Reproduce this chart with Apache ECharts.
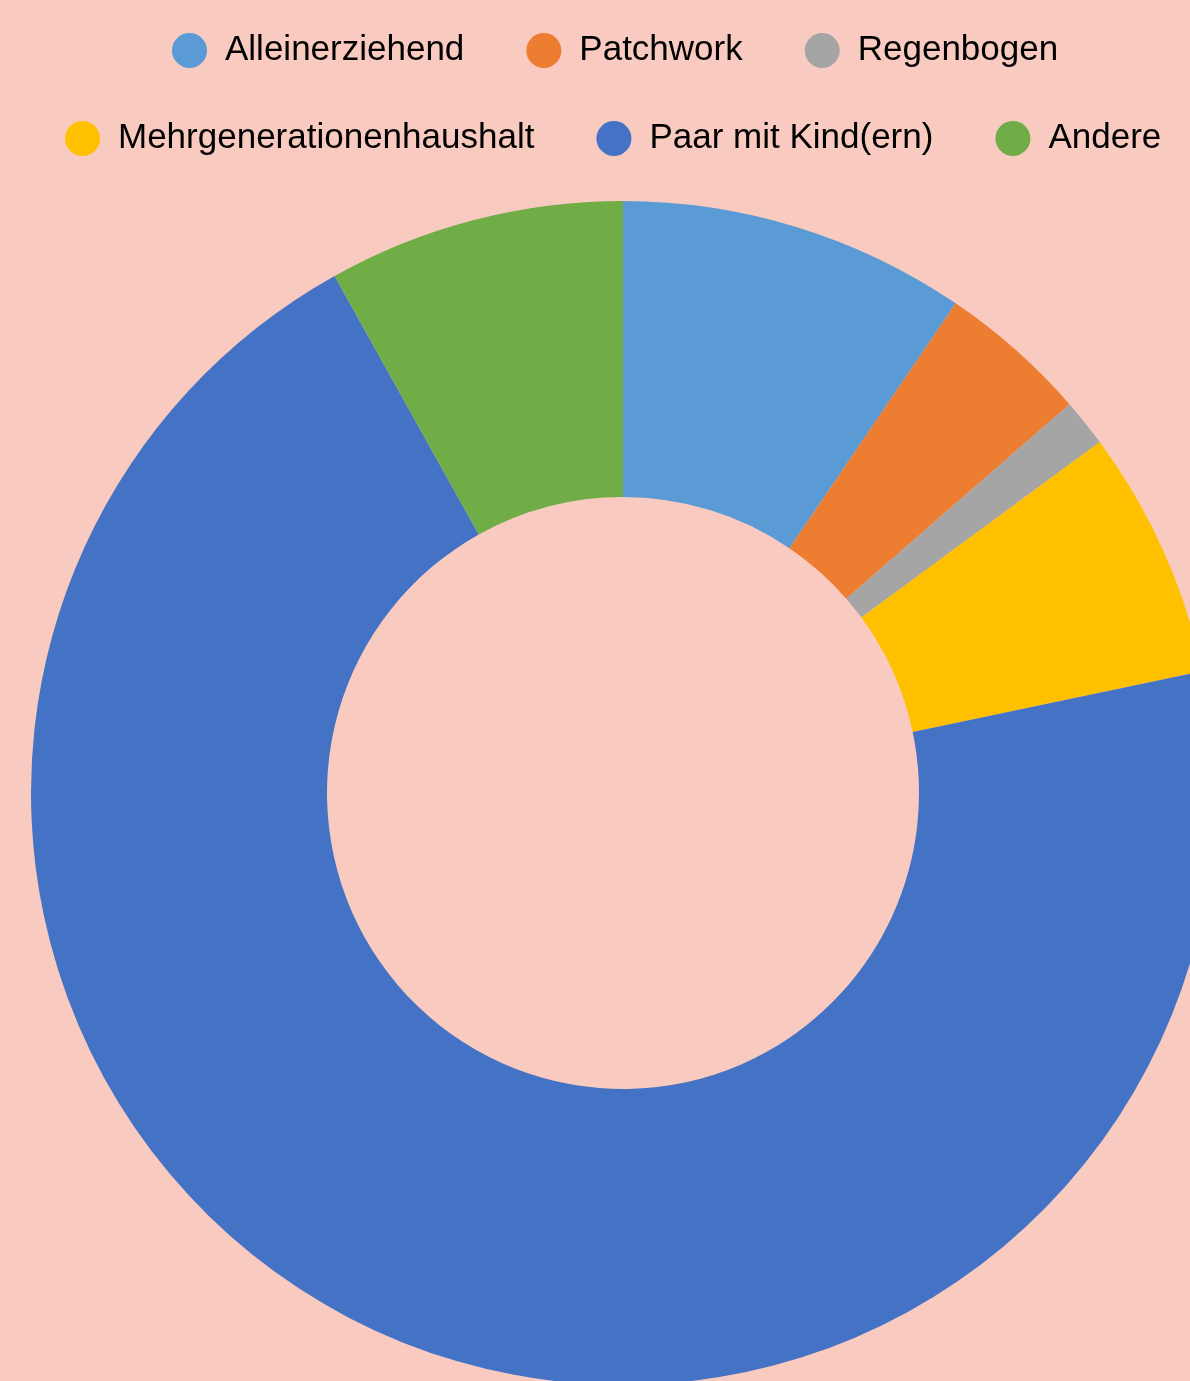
<!DOCTYPE html>
<html>
<head>
<meta charset="utf-8">
<script src="https://cdn.jsdelivr.net/npm/echarts@6/dist/echarts.min.js"></script>
<style>
  html, body { margin: 0; padding: 0; background: #f9cbc0; }
  #chart { width: 1190px; height: 1381px; }
</style>
</head>
<body>
<div id="chart"></div>
<script>
const categories = ["Alleinerziehend", "Patchwork", "Regenbogen", "Mehrgenerationenhaushalt", "Paar mit Kind(ern)", "Andere"];
const shares = [9.5, 4.1, 1.3, 6.8, 70.2, 8.1];
const colors = ["#5b9bd5", "#ed7d31", "#a5a5a5", "#ffc000", "#4472c4", "#70ad47"];

const legendRow1 = categories.slice(0, 3);
const legendRow2 = categories.slice(3);

const chart = echarts.init(document.getElementById("chart"));

const legendBase = {
  orient: "horizontal",
  icon: "circle",
  padding: 0,
  itemWidth: 35,
  itemHeight: 35,
  itemGap: 62,
  selectedMode: false,
  textStyle: {
    fontFamily: "Liberation Sans, Arial, sans-serif",
    fontSize: 35,
    color: "#000",
    padding: [0, 0, 0, 13],
  },
};

chart.setOption({
  backgroundColor: "#f9cbc0",
  color: colors,
  animation: false,
  legend: [
    Object.assign({}, legendBase, { data: legendRow1, left: 172, top: 33 }),
    Object.assign({}, legendBase, { data: legendRow2, left: 65, top: 121 }),
  ],
  series: [
    {
      type: "pie",
      center: [623, 793],
      radius: [296, 592],
      startAngle: 90,
      clockwise: true,
      label: { show: false },
      labelLine: { show: false },
      emphasis: { scale: false },
      itemStyle: { borderWidth: 0 },
      data: categories.map((name, i) => ({ name: name, value: shares[i] })),
    },
  ],
});
</script>
</body>
</html>
